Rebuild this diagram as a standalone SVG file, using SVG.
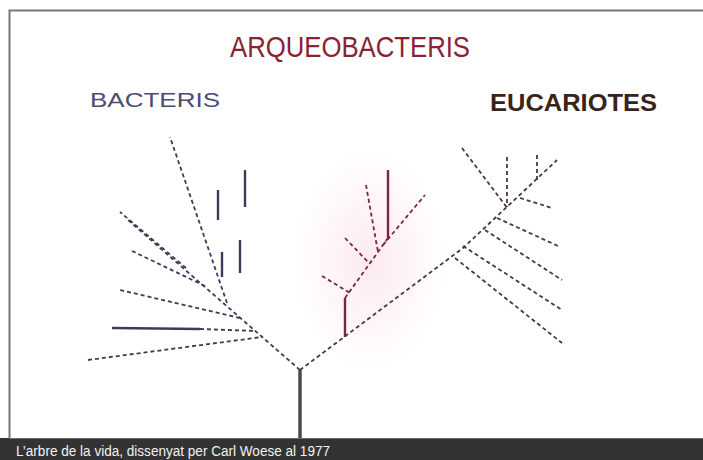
<svg xmlns="http://www.w3.org/2000/svg" width="703" height="460" viewBox="0 0 703 460">
<defs>
<radialGradient id="haze" cx="0.5" cy="0.5" r="0.5">
<stop offset="0" stop-color="#fbe4ec" stop-opacity="0.8"/>
<stop offset="1" stop-color="#fbe4ec" stop-opacity="0"/>
</radialGradient>
</defs>
<style>
.bac{stroke:#3c3c58;fill:none;stroke-linecap:butt}
.arq{stroke:#7a2840;fill:none}
.euc{stroke:#4a3a3a;fill:none}
.d{stroke-width:1.8;stroke-dasharray:4 3}
.s{stroke-width:2.4}
.lbl{font-family:"Liberation Sans Narrow","Liberation Sans",Arial,sans-serif}
</style>
<rect x="0" y="0" width="703" height="460" fill="#ffffff"/>
<path d="M9.5 438 V10.5 H703" fill="none" stroke="#767676" stroke-width="2"/>
<ellipse cx="370" cy="260" rx="75" ry="110" fill="url(#haze)"/>
<g id="label-arqueobacteris"><text class="lbl" x="230" y="57" font-size="30" fill="#8a2232" textLength="240" lengthAdjust="spacingAndGlyphs">ARQUEOBACTERIS</text></g>
<g id="label-bacteris"><text class="lbl" x="90" y="107" font-size="20" fill="#4c4c72" textLength="130" lengthAdjust="spacingAndGlyphs">BACTERIS</text></g>
<g id="label-eucariotes"><text class="lbl" x="490" y="111" font-size="24" font-weight="bold" fill="#3a2418" textLength="167" lengthAdjust="spacingAndGlyphs">EUCARIOTES</text></g>
<g id="connectors">
<line x1="300" y1="370" x2="300" y2="438" stroke="#4a4a4a" stroke-width="3.5"/>
<g id="bacteris-tree">
<line class="bac d" x1="300" y1="370" x2="128" y2="220"/>
<line class="bac d" x1="227" y1="303" x2="170" y2="137"/>
<line class="bac d" x1="240" y1="318" x2="120" y2="290"/>
<line class="bac s" x1="112" y1="328" x2="200" y2="329"/>
<line class="bac d" x1="200" y1="329" x2="256" y2="331"/>
<line class="bac d" x1="88" y1="360" x2="262" y2="337"/>
<line class="bac d" x1="205" y1="286" x2="130" y2="250"/>
<line class="bac d" x1="186" y1="268" x2="120" y2="212"/>
<line class="bac s" x1="245" y1="170" x2="245" y2="207"/>
<line class="bac s" x1="218" y1="190" x2="218" y2="220"/>
<line class="bac s" x1="240" y1="240" x2="240" y2="273"/>
<line class="bac s" x1="222" y1="252" x2="222" y2="277"/>
</g>
<g id="arqueobacteris-tree">
<line class="arq s" x1="345" y1="337" x2="345" y2="298"/>
<line class="arq d" x1="345" y1="298" x2="388" y2="238"/>
<line class="arq s" x1="388" y1="238" x2="388" y2="170"/>
<line class="arq d" x1="383" y1="245" x2="425" y2="195"/>
<line class="arq d" x1="366" y1="185" x2="378" y2="252"/>
<line class="arq d" x1="322" y1="276" x2="350" y2="293"/>
<line class="arq d" x1="345" y1="238" x2="368" y2="262"/>
</g>
<g id="eucariotes-tree">
<polyline class="euc d" points="300,370 463,248 557,160"/>
<line class="euc d" x1="497" y1="218" x2="558" y2="246"/>
<line class="euc d" x1="485" y1="230" x2="562" y2="280"/>
<line class="euc d" x1="463" y1="246" x2="562" y2="310"/>
<line class="euc d" x1="455" y1="258" x2="562" y2="343"/>
<line class="euc d" x1="520" y1="198" x2="552" y2="208"/>
<line class="euc d" x1="507" y1="157" x2="507" y2="207"/>
<line class="euc d" x1="537" y1="155" x2="537" y2="182"/>
<line class="euc d" x1="462" y1="148" x2="508" y2="209"/>
</g>
</g>
<g id="caption">
<rect x="0" y="438" width="703" height="22" fill="#333333"/>
<line x1="9" y1="438.5" x2="703" y2="438.5" stroke="#6a6a6a" stroke-width="1"/>
<text class="lbl" x="16" y="456" font-size="14" fill="#f2f2f2" textLength="314" lengthAdjust="spacingAndGlyphs">L’arbre de la vida, dissenyat per Carl Woese al 1977</text>
</g>
</svg>
